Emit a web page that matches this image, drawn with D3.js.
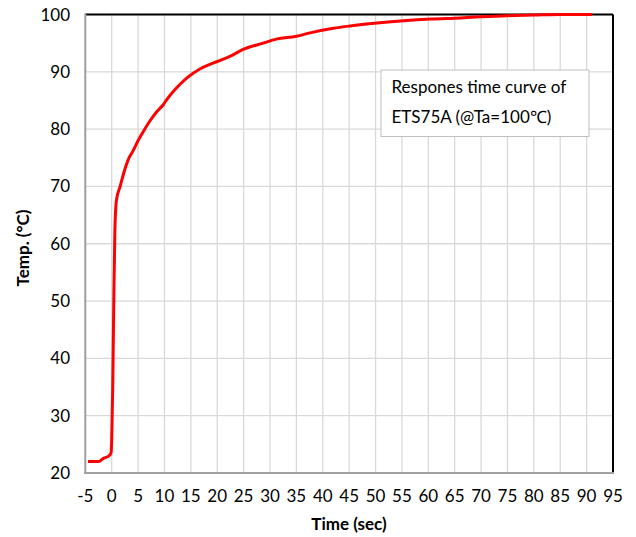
<!DOCTYPE html>
<html><head><meta charset="utf-8">
<script src="https://cdn.jsdelivr.net/npm/d3@7"></script>
<style>body{margin:0;background:#fff;} text{font-family:Lato,"Open Sans",sans-serif;}</style>
</head><body><svg id="c" width="636" height="537"></svg>
<script>
const timeSec = [-4.5,-3,-2.5,-1.5,-0.5,-0.1,0,0.2,0.4,0.6,0.9,1.6,2.5,3.1,4.1,5.0,6.0,7.3,8.5,9.8,10.4,12.0,14.2,16.7,18.6,20,22.4,24.9,28.7,31.2,35,37.6,42,45.2,50.3,55.3,60.4,66.1,70,75,80,85,91];
const tempC = [22.0,22.0,22.0,22.6,23.0,23.6,25.8,35,50,62,67.6,70.0,73.0,74.6,76.3,78.0,79.6,81.5,83.0,84.3,85.1,86.9,88.9,90.5,91.3,91.8,92.7,93.9,95.0,95.7,96.2,96.8,97.6,98.0,98.5,98.9,99.2,99.4,99.6,99.8,99.9,100,100];
const xTicks = [-5,0,5,10,15,20,25,30,35,40,45,50,55,60,65,70,75,80,85,90,95];
const yTicks = [20,30,40,50,60,70,80,90,100];
const legendLines = ["Respones time curve of","ETS75A (@Ta=100\u2103)"];

const svg = d3.select("#c");
const L=85.3,R=613,T=14.5,B=473;
const x = d3.scaleLinear().domain([-5,95]).range([L,R]);
const y = d3.scaleLinear().domain([20,100]).range([B,T]);

// gridlines
svg.append("g").selectAll("line").data(xTicks).join("line")
 .attr("x1",d=>x(d)).attr("x2",d=>x(d)).attr("y1",T).attr("y2",B)
 .attr("stroke","#d9d9d9").attr("stroke-width",1.3);
svg.append("g").selectAll("line").data(yTicks).join("line")
 .attr("x1",L).attr("x2",R).attr("y1",d=>y(d)).attr("y2",d=>y(d))
 .attr("stroke","#d9d9d9").attr("stroke-width",1.3);

// frame
svg.append("line").attr("x1",L).attr("x2",R).attr("y1",T).attr("y2",T).attr("stroke","#000").attr("stroke-width",2);
svg.append("line").attr("x1",R).attr("x2",R).attr("y1",T).attr("y2",B).attr("stroke","#000").attr("stroke-width",2);
svg.append("line").attr("x1",L).attr("x2",L).attr("y1",T-1).attr("y2",B+1).attr("stroke","#a0a0a0").attr("stroke-width",2);
svg.append("line").attr("x1",L-1).attr("x2",R+1).attr("y1",B).attr("y2",B).attr("stroke","#a0a0a0").attr("stroke-width",2);

// curve
const line = d3.line().x((d,i)=>x(timeSec[i])).y(d=>y(d)).curve(d3.curveMonotoneX);
svg.append("path").datum(tempC).attr("d",line).attr("fill","none")
 .attr("stroke","#ff0000").attr("stroke-width",3).attr("stroke-linejoin","round");

// tick labels
svg.append("g").selectAll("text").data(yTicks).join("text")
 .attr("x",70).attr("y",d=>y(d)+6).attr("text-anchor","end")
 .attr("font-size",17).attr("fill","#000").text(d=>d);
svg.append("g").selectAll("text").data(xTicks).join("text")
 .attr("x",d=>x(d)).attr("y",502).attr("text-anchor","middle")
 .attr("font-size",17).attr("fill","#000").text(d=>d);

// axis titles
svg.append("text").attr("x",349).attr("y",530).attr("text-anchor","middle")
 .attr("font-size",17).attr("font-weight","bold").text("Time (sec)");
svg.append("text").attr("transform","translate(29,248) rotate(-90)").attr("text-anchor","middle")
 .attr("font-size",17).attr("font-weight","bold").text("Temp. (\u00B0C)");

// legend box
svg.append("rect").attr("x",381).attr("y",70).attr("width",208).attr("height",66.5)
 .attr("fill","#fff").attr("stroke","#bfbfbf").attr("stroke-width",1);
svg.append("g").selectAll("text").data(legendLines).join("text")
 .attr("x",391.5).attr("y",(d,i)=>93+i*30).attr("font-size",17).attr("fill","#000").text(d=>d);
</script></body></html>
